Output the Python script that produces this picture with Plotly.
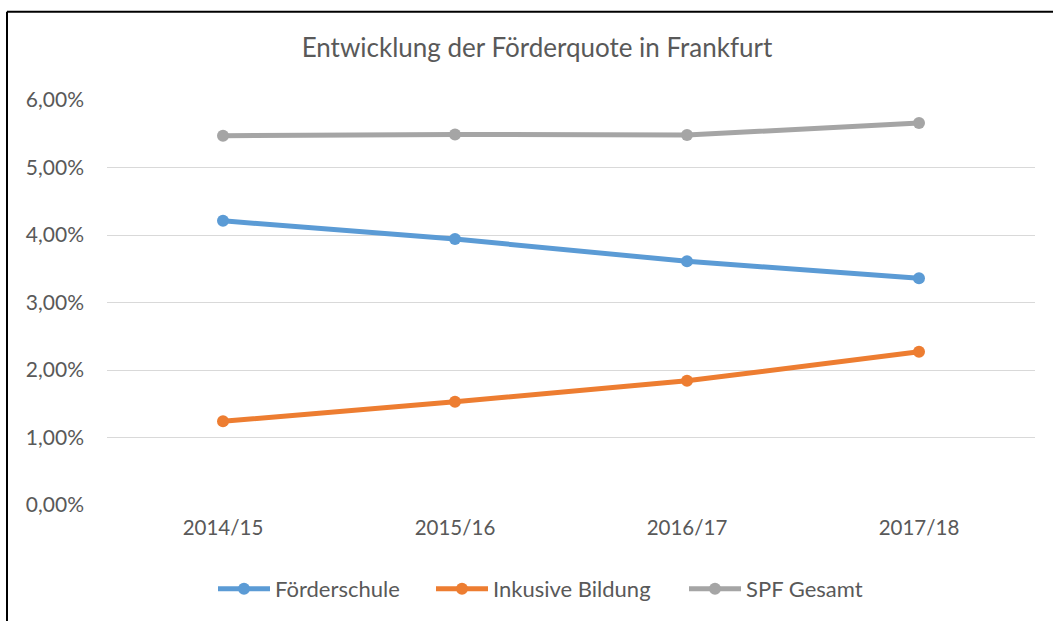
import plotly.graph_objects as go

categories = ["2014/15", "2015/16", "2016/17", "2017/18"]
foerderschule = [0.0421, 0.0394, 0.0361, 0.0336]
inklusive = [0.0124, 0.0153, 0.0184, 0.0227]
spf_gesamt = [0.0547, 0.0549, 0.0548, 0.0566]
y_ticks = [0, 0.01, 0.02, 0.03, 0.04, 0.05, 0.06]

FONT = "Lato"
GREY = "#595959"

W, H = 1053, 621
L, R, T, B = 107, 18, 99.5, 115
pw = W - L - R
ph = H - T - B

def px2paper_x(px):
    return (px - L) / pw

def px2paper_y(py):
    return (H - B - py) / ph

series = [
    ("Förderschule", foerderschule, "#5B9BD5", "legend", 213),
    ("Inkusive Bildung", inklusive, "#ED7D31", "legend2", 431),
    ("SPF Gesamt", spf_gesamt, "#A5A5A5", "legend3", 684),
]

fig = go.Figure()
legends = {}
for name, vals, col, lg, lx in series:
    fig.add_trace(go.Scatter(
        x=categories, y=vals, name=name, mode="lines+markers",
        line=dict(color=col, width=5), marker=dict(color=col, size=12),
        legend=lg,
    ))
    legends[lg] = dict(
        x=px2paper_x(lx), xanchor="left",
        y=px2paper_y(589), yanchor="middle",
        font=dict(size=22, color=GREY, family=FONT),
        bgcolor="rgba(0,0,0,0)", borderwidth=0, itemwidth=52,
    )

fig.update_layout(
    width=W, height=H,
    margin=dict(l=L, r=R, t=T, b=B),
    paper_bgcolor="white", plot_bgcolor="white",
    separators=",.",
    font=dict(family=FONT, color=GREY, size=20),
    title=dict(text="Entwicklung der Förderquote in Frankfurt",
               x=0.51, xanchor="center", y=1 - 48 / H, yanchor="middle",
               font=dict(size=26, color=GREY, family=FONT)),
    xaxis=dict(type="category", range=[-0.5, 3.5], showgrid=False,
               showline=False, ticks="", ticklabelstandoff=8,
               tickfont=dict(size=20.5, color=GREY)),
    yaxis=dict(range=[0, 0.06], tickvals=y_ticks, tickformat=".2%",
               showgrid=True, gridcolor="#D9D9D9", gridwidth=1.3,
               zeroline=False, showline=False, ticks="",
               ticklabelstandoff=22,
               tickfont=dict(size=21, color=GREY)),
    showlegend=True,
    shapes=[
        dict(type="line", xref="paper", yref="paper",
             x0=px2paper_x(7), x1=px2paper_x(1060),
             y0=px2paper_y(11), y1=px2paper_y(11),
             line=dict(color="black", width=2)),
        dict(type="line", xref="paper", yref="paper",
             x0=px2paper_x(7), x1=px2paper_x(7),
             y0=px2paper_y(11), y1=px2paper_y(630),
             line=dict(color="black", width=2)),
    ],
    **legends,
)

fig.write_html("out.html", config={"displayModeBar": False},
               post_script="document.body.style.margin='0';document.body.style.overflow='hidden';")
